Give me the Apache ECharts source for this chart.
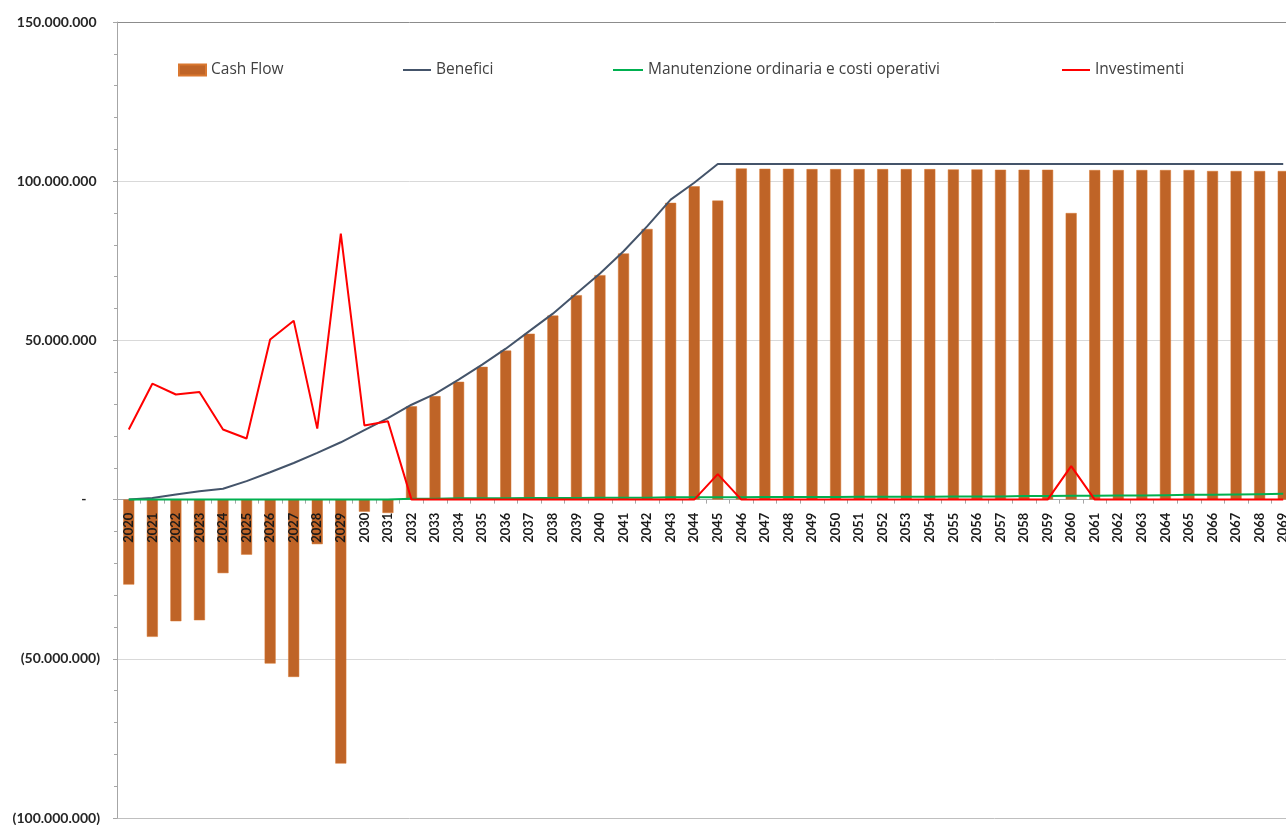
<!DOCTYPE html>
<html>
<head>
<meta charset="utf-8">
<title>Cash Flow</title>
<script src="https://cdn.jsdelivr.net/npm/echarts@6/dist/echarts.min.js"></script>
<style>
  html, body { margin: 0; padding: 0; background: #ffffff; }
  #chart { width: 1286px; height: 825px; }
</style>
</head>
<body>
<div id="chart"></div>
<script>
// Years of the analysis period
const years = [
  '2020','2021','2022','2023','2024','2025','2026','2027','2028','2029',
  '2030','2031','2032','2033','2034','2035','2036','2037','2038','2039',
  '2040','2041','2042','2043','2044','2045','2046','2047','2048','2049',
  '2050','2051','2052','2053','2054','2055','2056','2057','2058','2059',
  '2060','2061','2062','2063','2064','2065','2066','2067','2068','2069'
];

// Values in millions of euro
const cashFlow = [
  -26.7, -43.1, -38.2, -37.9, -23.1, -17.3, -51.5, -55.7, -14.0, -82.9,
  -3.8, -4.2, 29.3, 32.5, 37.0, 41.7, 46.8, 52.1, 57.8, 64.2,
  70.5, 77.3, 85.0, 93.2, 98.4, 93.9, 104.0, 103.9, 103.9, 103.8,
  103.8, 103.8, 103.8, 103.8, 103.8, 103.7, 103.7, 103.6, 103.6, 103.6,
  90.0, 103.5, 103.5, 103.5, 103.5, 103.5, 103.2, 103.2, 103.2, 103.2
];

const benefici = [
  0.0, 0.5, 1.6, 2.6, 3.4, 5.8, 8.6, 11.5, 14.7, 18.0,
  21.8, 25.6, 29.8, 33.2, 37.7, 42.4, 47.4, 52.9, 58.4, 64.7,
  71.0, 78.0, 85.8, 94.2, 99.5, 105.4, 105.4, 105.4, 105.4, 105.4,
  105.4, 105.4, 105.4, 105.4, 105.4, 105.4, 105.4, 105.4, 105.4, 105.4,
  105.4, 105.4, 105.4, 105.4, 105.4, 105.4, 105.4, 105.4, 105.4, 105.4
];

const manutenzione = [
  0.0, 0.0, 0.0, 0.0, 0.0, 0.0, 0.0, 0.0, 0.0, 0.0,
  0.0, 0.0, 0.3, 0.3, 0.4, 0.4, 0.4, 0.5, 0.5, 0.5,
  0.6, 0.6, 0.6, 0.7, 0.7, 0.7, 0.7, 0.8, 0.8, 0.8,
  0.8, 0.9, 0.9, 0.9, 0.9, 1.0, 1.0, 1.0, 1.1, 1.1,
  1.2, 1.2, 1.3, 1.3, 1.4, 1.5, 1.5, 1.6, 1.7, 1.8
];

const investimenti = [
  22.0, 36.4, 33.0, 33.8, 22.0, 19.2, 50.3, 56.2, 22.3, 83.5,
  23.3, 24.6, 0, 0, 0, 0, 0, 0, 0, 0,
  0, 0, 0, 0, 0, 8.0, 0, 0, 0, 0,
  0, 0, 0, 0, 0, 0, 0, 0, 0, 0,
  10.5, 0, 0, 0, 0, 0, 0, 0, 0, 0
];

const seriesNames = ['Cash Flow', 'Benefici', 'Manutenzione ordinaria e costi operativi', 'Investimenti'];

const Y_MIN = -100000000;
const Y_MAX = 150000000;

const toEuro = arr => arr.map(v => Math.round(v * 1e6));

// Accounting style: thousands with dots, negatives in brackets, zero as a dash
function fmtAxis(v) {
  if (v === 0) return '-    ';
  const s = Math.abs(v).toFixed(0).replace(/\B(?=(\d{3})+(?!\d))/g, '.');
  return v < 0 ? '(' + s + ')' : s + ' ';
}

const FONT = 'Lato, "Open Sans", sans-serif';
const LEGEND_FONT = '"Open Sans", Lato, sans-serif';

const GRID = { left: 117, top: 22, width: 1178, height: 796 };
// distance of the zero line above the bottom edge of the plot
const zeroOffset = GRID.height * (0 - Y_MIN) / (Y_MAX - Y_MIN);

const legendBase = {
  padding: 0,
  top: 62,
  itemHeight: 2,
  itemWidth: 28,
  icon: 'rect',
  selectedMode: false,
  textStyle: { fontFamily: LEGEND_FONT, fontSize: 15.5, color: '#404040' }
};

const chart = echarts.init(document.getElementById('chart'), null, { renderer: 'canvas' });

chart.setOption({
  animation: false,
  backgroundColor: '#ffffff',
  textStyle: { fontFamily: FONT },
  grid: Object.assign({ containLabel: false, outerBoundsMode: 'none' }, GRID),
  legend: [
    Object.assign({}, legendBase, { data: [seriesNames[0]], left: 178, itemWidth: 27, itemHeight: 11 }),
    Object.assign({}, legendBase, { data: [seriesNames[1]], left: 403 }),
    Object.assign({}, legendBase, { data: [seriesNames[2]], left: 613, itemWidth: 30 }),
    Object.assign({}, legendBase, { data: [seriesNames[3]], left: 1062 })
  ],
  xAxis: [
    {
      // category axis carrying the series: line and ticks on the zero value
      type: 'category',
      data: years,
      boundaryGap: true,
      axisLine: { onZero: true, lineStyle: { color: '#a6a6a6', width: 1 } },
      axisTick: { show: true, interval: 0, length: 4, lineStyle: { color: '#a6a6a6' } },
      axisLabel: { show: false },
      splitLine: { show: false }
    },
    {
      // year labels drawn along the zero line, above the bars
      type: 'category',
      data: years,
      position: 'bottom',
      offset: -zeroOffset,
      boundaryGap: true,
      z: 10,
      axisLine: { show: false },
      axisTick: { show: false },
      axisLabel: {
        interval: 0,
        rotate: 90,
        margin: 13,
        fontFamily: FONT,
        fontSize: 13,
        fontWeight: 'bold',
        color: '#1a1a1a'
      },
      splitLine: { show: false }
    }
  ],
  yAxis: {
    type: 'value',
    min: Y_MIN,
    max: Y_MAX,
    interval: 50000000,
    axisLine: { show: true, lineStyle: { color: '#a6a6a6' } },
    axisTick: { show: true, length: 4, lineStyle: { color: '#a6a6a6' } },
    minorTick: { show: true, splitNumber: 5, length: 3, lineStyle: { color: '#a6a6a6' } },
    axisLabel: {
      formatter: fmtAxis,
      margin: 17,
      fontFamily: FONT,
      fontSize: 14,
      fontWeight: 'bold',
      color: '#262626'
    },
    splitLine: {
      show: true,
      lineStyle: { color: ['#bfbfbf', '#d9d9d9', '#d9d9d9', '#d9d9d9', '#d9d9d9', '#8c8c8c'], width: 1 }
    }
  },
  series: [
    {
      name: seriesNames[0],
      type: 'bar',
      data: toEuro(cashFlow),
      barWidth: 11,
      itemStyle: { color: '#BF6427', borderColor: '#D9772F', borderWidth: 0.5 },
      z: 2
    },
    {
      name: seriesNames[1],
      type: 'line',
      data: toEuro(benefici),
      symbol: 'none',
      lineStyle: { color: '#44546A', width: 2 },
      itemStyle: { color: '#44546A' },
      z: 3
    },
    {
      name: seriesNames[2],
      type: 'line',
      data: toEuro(manutenzione),
      symbol: 'none',
      lineStyle: { color: '#00B050', width: 2 },
      itemStyle: { color: '#00B050' },
      z: 4
    },
    {
      name: seriesNames[3],
      type: 'line',
      data: toEuro(investimenti),
      symbol: 'none',
      lineStyle: { color: '#FF0000', width: 2 },
      itemStyle: { color: '#FF0000' },
      z: 5
    }
  ]
});
</script>
</body>
</html>
